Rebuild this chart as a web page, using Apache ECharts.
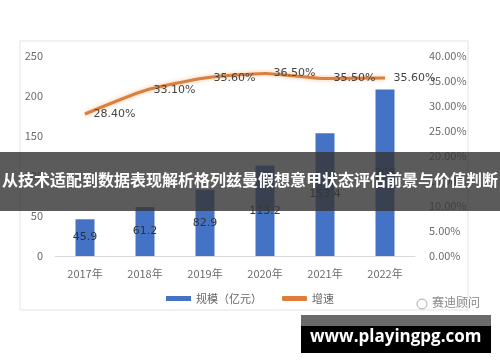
<!DOCTYPE html>
<html><head><meta charset="utf-8">
<script src="https://cdn.jsdelivr.net/npm/echarts@6/dist/echarts.min.js"></script>
<style>html,body{margin:0;padding:0;background:#fff}#c{width:500px;height:362px}</style>
</head><body><div id="c"></div>
<script>
const categories = ['2017年','2018年','2019年','2020年','2021年','2022年'];
const scaleValues = [45.9, 61.2, 82.9, 113.2, 153.4, 208];
const growthValues = [28.4, 33.1, 35.6, 36.5, 35.5, 35.6];
const leftTicks = [0, 50, 100, 150, 200, 250];
const rightTicks = [0, 5, 10, 15, 20, 25, 30, 35, 40];
const bannerText = '从技术适配到数据表现解析格列兹曼假想意甲状态评估前景与价值判断';
const watermarkText = 'www.playingpg.com';
const logoText = '赛迪顾问';

const chart = echarts.init(document.getElementById('c'));
const axisFont = {color:'#6b6b6b', fontSize:11, fontFamily:'"Noto Sans CJK SC", "DejaVu Sans", sans-serif'};
chart.setOption({
  animation:false,
  grid:{left:55, right:85, top:56, bottom:106},
  legend:{
    top:288, left:'center', itemGap:20, itemWidth:25, itemHeight:5,
    textStyle:{color:'#666', fontSize:11, fontFamily:'"Noto Sans CJK SC", sans-serif'},
    data:[{name:'规模（亿元）', icon:'rect'},
          {name:'增速', icon:'roundRect', itemStyle:{color:'#E07B39', opacity:1}}]
  },
  xAxis:{type:'category', data:categories,
    axisLine:{lineStyle:{color:'#d9d9d9'}}, axisTick:{show:false},
    axisLabel:Object.assign({margin:12}, axisFont)},
  yAxis:[
    {type:'value', min:leftTicks[0], max:leftTicks[leftTicks.length-1], interval:50,
     splitLine:{show:false}, axisLine:{show:false}, axisTick:{show:false},
     axisLabel:Object.assign({margin:12, align:'right'}, axisFont)},
    {type:'value', min:rightTicks[0], max:rightTicks[rightTicks.length-1], interval:5,
     splitLine:{show:false}, axisLine:{show:false}, axisTick:{show:false},
     axisLabel:Object.assign({margin:14, formatter:v=>v.toFixed(2)+'%'}, axisFont)}
  ],
  series:[
    {name:'规模（亿元）', type:'bar', data:scaleValues, barWidth:19,
     itemStyle:{color:'#4472C4'},
     label:{show:true, position:'inside', color:'#333', fontSize:11, fontFamily:'"DejaVu Sans", sans-serif'}},
    {name:'增速', type:'line', yAxisIndex:1, data:growthValues, smooth:0.2,
     showSymbol:true, symbol:'circle', symbolSize:1,
     itemStyle:{color:'#E07B39', opacity:0},
     lineStyle:{width:3, color:'#D9803F', opacity:1, shadowColor:'rgba(240,150,90,0.6)', shadowBlur:4},
     label:{show:true, position:'right', distance:8, color:'#444', fontSize:11, opacity:1,
       fontFamily:'"DejaVu Sans", sans-serif', formatter:p=>p.value.toFixed(2)+'%'}}
  ],
  graphic:[
    {type:'rect', z:-1, shape:{x:20, y:41, width:448, height:269}, style:{fill:'none', stroke:'#e3e3e3', lineWidth:1}},
    {type:'rect', z:100, shape:{x:0, y:152, width:500, height:59}, style:{fill:'rgba(55,55,55,0.82)'}},
    {type:'text', z:101, left:'center', top:172, style:{text:bannerText, fill:'#fff', fontSize:16, fontWeight:'bold', fontFamily:'"Noto Sans CJK SC", sans-serif'}},
    {type:'text', z:50, left:432, top:296, style:{text:logoText, fill:'#888', fontSize:12, fontFamily:'"Noto Sans CJK SC", sans-serif'}},
    {type:'circle', z:50, shape:{cx:422, cy:304, r:5}, style:{fill:'none', stroke:'#aaa', lineWidth:1}},
    {type:'rect', z:100, shape:{x:301, y:315, width:190, height:11}, style:{fill:'#6a6a6a'}},
    {type:'rect', z:100, shape:{x:301, y:326, width:190, height:27}, style:{fill:'#000'}},
    {type:'text', z:101, left:310, top:329, style:{text:watermarkText, fill:'#fff', fontSize:17, fontWeight:'bold', fontFamily:'"Open Sans", "DejaVu Sans", sans-serif'}}
  ]
});
</script></body></html>
